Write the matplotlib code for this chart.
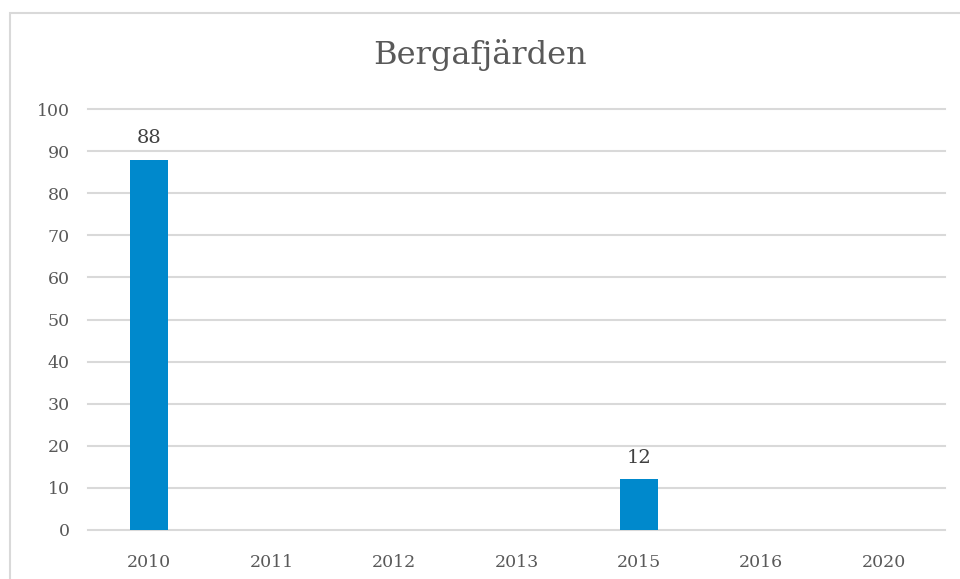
import matplotlib.pyplot as plt
import numpy as np
from matplotlib.patches import Rectangle

# data
years = ["2010", "2011", "2012", "2013", "2015", "2016", "2020"]
counts = [88, 0, 0, 0, 12, 0, 0]
title = "Bergafjärden"

plt.rcParams['font.family'] = ['DejaVu Serif']
text_col = "#595959"
grid_col = "#D9D9D9"
bar_col = "#0089CC"

fig = plt.figure(figsize=(9.6, 5.79), dpi=100)

# light frame round the chart (only top and left visible, like the crop)
fig.patches.append(Rectangle((9.5/960, -0.1), 2.0, 1 - 13/579 + 0.1,
                             transform=fig.transFigure, fill=False,
                             edgecolor=grid_col, linewidth=1.5))

ax = fig.add_axes([88/960, 1 - 530/579, 857/960, 421/579])
x = np.arange(len(years))
bars = ax.bar(x, counts, width=0.31, color=bar_col, zorder=3)

for xi, v in zip(x, counts):
    if v > 0:
        ax.text(xi, v + 3.0, str(v), ha="center", va="bottom",
                fontsize=14, color="#404040")

ax.set_xlim(-0.5, len(years) - 0.5)
ax.set_ylim(0, 100)
ax.set_yticks(range(0, 101, 10))
ax.set_xticks(x)
ax.set_xticklabels(years)
ax.grid(axis="y", color=grid_col, linewidth=1.5, zorder=0)
for gl in ax.get_ygridlines():
    gl.set_clip_on(False)
ax.tick_params(length=0, labelsize=12.5, colors=text_col)
ax.tick_params(axis="x", pad=17)
ax.tick_params(axis="y", pad=13)
for s in ax.spines.values():
    s.set_visible(False)

fig.text(0.5, 1 - 55/579, title, ha="center", va="center",
         fontsize=23, color=text_col)

fig.savefig("out.png", dpi=100)
